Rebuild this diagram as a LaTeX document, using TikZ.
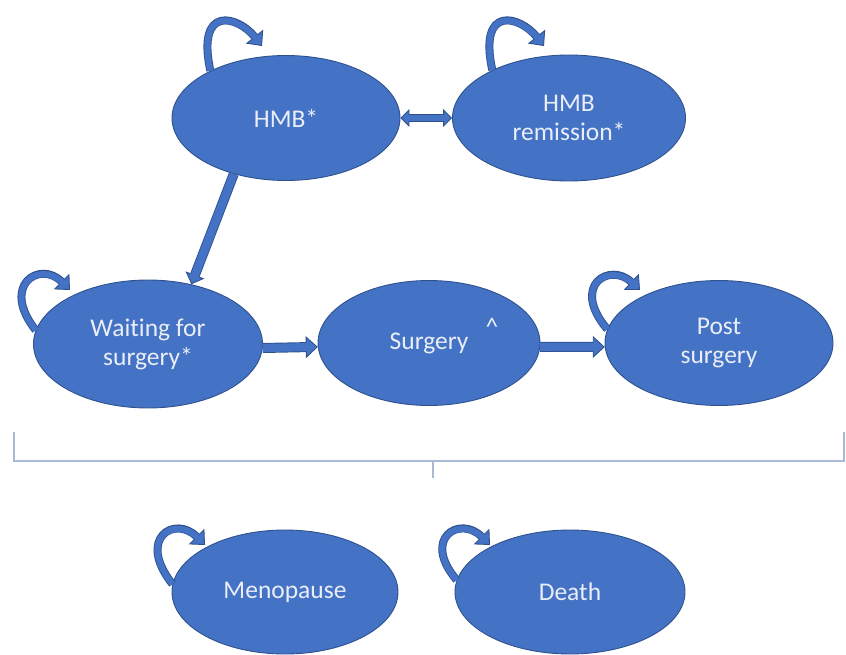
\documentclass[tikz,border=0pt]{standalone}
\usepackage{fontspec}
\setmainfont{Carlito}[Ligatures=NoCommon]
\usetikzlibrary{shapes.geometric,arrows.meta}
\definecolor{nodeblue}{HTML}{4472C4}
\definecolor{edgeblue}{HTML}{2F528F}
\definecolor{txtc}{HTML}{E9EEF8}
\definecolor{bracec}{HTML}{A9BAD6}
\newcommand{\fatpath}[2]{\draw[#1out] #2; \draw[#1in] #2;}
\begin{document}
\begin{tikzpicture}[x=1pt,y=-1pt,
  state/.style={ellipse, draw=edgeblue, line width=0.9pt, fill=nodeblue, inner sep=0pt,
    text=txtc, font=\fontsize{25.5}{29}\selectfont, align=center},
  lbl/.style={text=txtc, font=\fontsize{25.5}{29}\selectfont, inner sep=0pt},
  loopout/.style={line width=8pt, draw=edgeblue, -{Triangle[length=12pt,width=22pt,line width=0.9pt,fill=nodeblue]}},
  loopin/.style={line width=6.2pt, draw=nodeblue, shorten >=10.5pt},
  barout/.style={line width=10pt, draw=edgeblue, -{Triangle[length=12pt,width=22pt,line width=0.9pt,fill=nodeblue]}},
  barin/.style={line width=8.2pt, draw=nodeblue, shorten >=10.5pt},
  diagout/.style={line width=10pt, draw=edgeblue, -{Triangle[length=10pt,width=20pt,line width=0.9pt,fill=nodeblue]}},
  diagin/.style={line width=8.2pt, draw=nodeblue, shorten >=8.5pt},
  dblout/.style={line width=8pt, draw=edgeblue, {Triangle[length=9pt,width=18pt,line width=0.9pt,fill=nodeblue]}-{Triangle[length=9pt,width=18pt,line width=0.9pt,fill=nodeblue]}},
  dblin/.style={line width=6.2pt, draw=nodeblue, shorten >=7.5pt, shorten <=7.5pt},
  bracket/.style={draw=bracec, line width=1.3pt}
]
\useasboundingbox (0,0) rectangle (846,655);

% states
\node[state, minimum width=228pt, minimum height=125pt] (hmb) at (286,118) {HMB*};
\node[state, minimum width=233pt, minimum height=126pt] (rem) at (569,118) {HMB\\remission*};
\node[state, minimum width=229pt, minimum height=128pt] (wait) at (148,344) {Waiting for\\surgery*};
\node[state, minimum width=222pt, minimum height=125pt] (surg) at (429,343) {Surgery};
\node[lbl] (caret) at (492,327) {\textasciicircum};
\node[state, minimum width=228pt, minimum height=125pt] (post) at (719,343) {Post\\surgery};
\node[state, minimum width=226pt, minimum height=124pt] (meno) at (285,592) {Menopause};
\node[state, minimum width=230pt, minimum height=124pt] (death) at (570,592) {Death};

% loop ends
\coordinate (hmbl) at (262,46);
\coordinate (reml) at (544,46);
\coordinate (waitl) at (70,290);
\coordinate (postl) at (640,290);
\coordinate (menol) at (205,545);
\coordinate (deathl) at (490,545);

% self loops
\fatpath{loop}{(hmb.148) .. controls (196,4) and (238,16) .. (hmbl)}
\fatpath{loop}{(rem.148) .. controls (478,4) and (520,16) .. (reml)}
\fatpath{loop}{(wait.173) .. controls (0,285) and (40,260) .. (waitl)}
\fatpath{loop}{(post.173) .. controls (570,285) and (610,262) .. (postl)}
\fatpath{loop}{(meno.176) .. controls (136,538) and (175,515) .. (menol)}
\fatpath{loop}{(death.174) .. controls (421,538) and (460,515) .. (deathl)}

% transitions
\fatpath{dbl}{(hmb.east) -- (rem.west)}
\fatpath{diag}{(hmb.227) -- (wait.54)}
\fatpath{bar}{(wait.-2) -- (surg.182)}
\fatpath{bar}{(surg.-2) -- (post.182)}

% bracket
\draw[bracket] (14,432) -- (14,461) -- (844,461) -- (844,432);
\draw[bracket] (433,461) -- (433,478);
\end{tikzpicture}
\end{document}
